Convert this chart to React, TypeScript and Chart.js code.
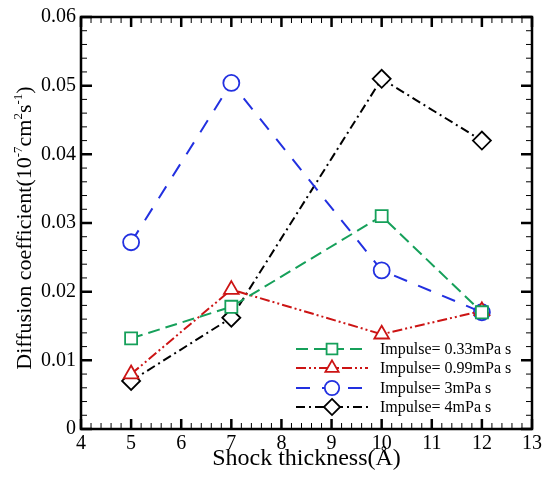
import React, { useEffect, useRef } from "react";
import { Chart, registerables } from "chart.js";

Chart.register(...registerables);

const thickness = [5, 7, 10, 12];
const impulse033 = [0.0132, 0.0178, 0.031, 0.017];
const impulse099 = [0.008, 0.0203, 0.0138, 0.0172];
const impulse3 = [0.0272, 0.0504, 0.0231, 0.017];
const impulse4 = [0.007, 0.0162, 0.051, 0.042];
const seriesLabels = ["Impulse= 0.33mPa s", "Impulse= 0.99mPa s", "Impulse= 3mPa s", "Impulse= 4mPa s"];
const xTicks = [4, 5, 6, 7, 8, 9, 10, 11, 12, 13];
const yTicks = [0, 0.01, 0.02, 0.03, 0.04, 0.05, 0.06];
const yTitleParts: [string, boolean][] = [
  ["Diffusion coefficient(10", false],
  ["-7", true],
  ["cm", false],
  ["2", true],
  ["s", false],
  ["-1", true],
  [")", false],
];

const SERIF = "'Liberation Serif', 'Times New Roman', serif";

const styles = [
  { color: "#16a05a", dash: [12, 6], point: "rect", radius: 8.5 },
  { color: "#cc1414", dash: [10, 3, 2, 3, 2, 3], point: "triangle", radius: 8.5 },
  { color: "#2230e0", dash: [14, 12], point: "circle", radius: 8 },
  { color: "#000000", dash: [9, 4, 2, 4], point: "rectRot", radius: 9 },
];

function drawMarker(ctx: CanvasRenderingContext2D, style: string, x: number, y: number, r: number) {
  ctx.beginPath();
  if (style === "rect") {
    const s = Math.SQRT1_2 * r;
    ctx.rect(x - s, y - s, 2 * s, 2 * s);
  } else if (style === "triangle") {
    ctx.moveTo(x, y - r);
    ctx.lineTo(x + r * Math.sin(Math.PI / 3), y + r * 0.5);
    ctx.lineTo(x - r * Math.sin(Math.PI / 3), y + r * 0.5);
    ctx.closePath();
  } else if (style === "circle") {
    ctx.arc(x, y, r, 0, Math.PI * 2);
  } else {
    ctx.moveTo(x, y - r);
    ctx.lineTo(x + r, y);
    ctx.lineTo(x, y + r);
    ctx.lineTo(x - r, y);
    ctx.closePath();
  }
  ctx.fillStyle = "#fff";
  ctx.fill();
  ctx.stroke();
}

const framePlugin = {
  id: "frame",
  afterDraw(chart: any) {
    const { ctx, chartArea: a, scales } = chart;
    const xs = scales.x;
    const ys = scales.y;
    ctx.save();
    ctx.strokeStyle = "#000";
    for (let i = 0; i <= 45; i++) {
      const v = 4 + i * 0.2;
      const px = xs.getPixelForValue(v);
      const major = i % 5 === 0;
      const len = major ? 10 : 6;
      ctx.lineWidth = major ? 2.5 : 1;
      ctx.beginPath();
      ctx.moveTo(px, a.bottom);
      ctx.lineTo(px, a.bottom - len);
      ctx.moveTo(px, a.top);
      ctx.lineTo(px, a.top + len);
      ctx.stroke();
    }
    for (let i = 0; i <= 30; i++) {
      const v = i * 0.002;
      const py = ys.getPixelForValue(v);
      const major = i % 5 === 0;
      const len = major ? 11 : 6;
      ctx.lineWidth = major ? 2.5 : 1;
      ctx.beginPath();
      ctx.moveTo(a.left, py);
      ctx.lineTo(a.left + len, py);
      ctx.moveTo(a.right, py);
      ctx.lineTo(a.right - len, py);
      ctx.stroke();
    }
    ctx.lineWidth = 2.5;
    ctx.strokeRect(a.left, a.top, a.right - a.left, a.bottom - a.top);

    // y-axis title with superscripts
    const mainFont = `22px ${SERIF}`;
    const supFont = `13px ${SERIF}`;
    let total = 0;
    yTitleParts.forEach(([t, sup]) => {
      ctx.font = sup ? supFont : mainFont;
      total += ctx.measureText(t).width;
    });
    const cy = (a.top + a.bottom) / 2 + 5;
    ctx.translate(31, cy);
    ctx.rotate(-Math.PI / 2);
    ctx.fillStyle = "#000";
    ctx.textBaseline = "alphabetic";
    ctx.textAlign = "left";
    let xpos = -total / 2;
    yTitleParts.forEach(([t, sup]) => {
      ctx.font = sup ? supFont : mainFont;
      ctx.fillText(t, xpos, sup ? -9 : 0);
      xpos += ctx.measureText(t).width;
    });
    ctx.setTransform(1, 0, 0, 1, 0, 0);

    // legend
    const rowsY = [349, 368, 388, 407];
    ctx.font = `16px ${SERIF}`;
    ctx.textBaseline = "middle";
    styles.forEach((s, i) => {
      const y = rowsY[i];
      ctx.strokeStyle = s.color;
      ctx.lineWidth = 2;
      ctx.setLineDash(s.dash);
      ctx.beginPath();
      ctx.moveTo(296, y);
      ctx.lineTo(368, y);
      ctx.stroke();
      ctx.setLineDash([]);
      ctx.lineWidth = 1.8;
      drawMarker(ctx, s.point, 332, y, s.radius * 0.9);
      ctx.fillStyle = "#000";
      ctx.fillText(seriesLabels[i], 380, y + 1);
    });
    ctx.restore();
  },
};

export default function App() {
  const ref = useRef<HTMLCanvasElement>(null);
  useEffect(() => {
    document.body.style.margin = "0";
    const allSeries = [impulse033, impulse099, impulse3, impulse4];
    const chart = new Chart(ref.current!, {
      type: "scatter",
      data: {
        datasets: allSeries.map((vals, i) => ({
          label: seriesLabels[i],
          data: thickness.map((t, j) => ({ x: t, y: vals[j] })),
          showLine: true,
          borderColor: styles[i].color,
          borderWidth: 2,
          borderDash: styles[i].dash,
          pointStyle: styles[i].point as any,
          pointRadius: styles[i].radius,
          pointBorderWidth: 1.8,
          pointBackgroundColor: "#fff",
          pointBorderColor: styles[i].color,
        })),
      },
      options: {
        animation: false,
        responsive: false,
        layout: { padding: { top: 14, right: 12, left: 0, bottom: 0 } },
        plugins: { legend: { display: false }, tooltip: { enabled: false } },
        scales: {
          x: {
            type: "linear",
            min: 4,
            max: 13,
            afterBuildTicks: (s: any) => { s.ticks = xTicks.map((v) => ({ value: v })); },
            afterFit: (s: any) => { s.height = 50; },
            grid: { display: false, drawTicks: false },
            border: { display: false },
            ticks: { font: { family: SERIF, size: 20 }, color: "#000", padding: 3, maxRotation: 0 },
            title: { display: true, text: "Shock thickness(Å)", font: { family: SERIF, size: 24 }, color: "#000", padding: { top: 0, bottom: 6 } },
          },
          y: {
            type: "linear",
            min: 0,
            max: 0.06,
            afterBuildTicks: (s: any) => { s.ticks = yTicks.map((v) => ({ value: v })); },
            afterFit: (s: any) => { s.width = 81; },
            grid: { display: false, drawTicks: false },
            border: { display: false },
            ticks: {
              font: { family: SERIF, size: 20 },
              color: "#000",
              padding: 5,
              callback: (v: any) => (v === 0 ? "0" : Number(v).toFixed(2)),
            },
            title: { display: false },
          },
        },
      },
      plugins: [framePlugin],
    });
    return () => chart.destroy();
  }, []);
  return <canvas ref={ref} width={545} height={479} style={{ display: "block" }} />;
}
